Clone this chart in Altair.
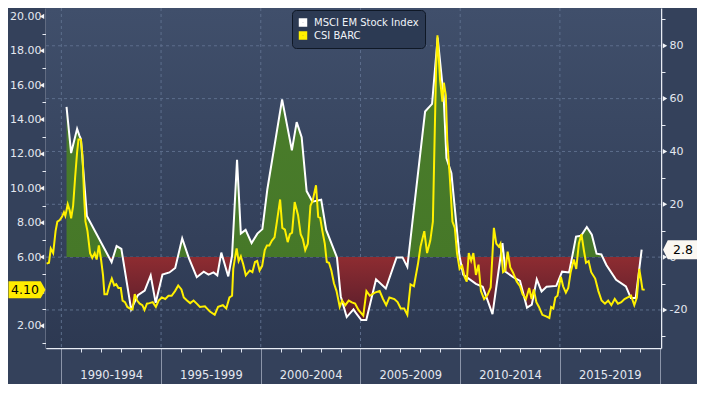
import altair as alt
import pandas as pd

# ---------------- data ----------------
msci_t = [1990.26, 1990.49, 1990.79, 1990.90, 1990.98, 1991.28, 1992.52, 1992.77, 1993.01, 1993.50,
          1993.84, 1994.18, 1994.48, 1994.73, 1995.07, 1995.42, 1995.71, 1996.06, 1996.40, 1996.79,
          1997.14, 1997.38, 1997.63, 1997.82, 1998.02, 1998.37, 1998.56, 1998.81, 1999.00, 1999.24,
          1999.54, 1999.83, 2000.08, 2000.33, 2001.07, 2001.56, 2001.80, 2002.05, 2002.30, 2002.59,
          2003.03, 2003.28, 2003.82, 2004.01, 2004.31, 2004.65, 2004.75, 2005.04, 2005.29, 2005.78,
          2006.27, 2006.81, 2007.11, 2007.35, 2007.70, 2008.24, 2008.59, 2008.87, 2009.17, 2009.31,
          2009.56, 2009.96, 2010.15, 2010.79, 2011.13, 2011.62, 2012.12, 2012.27, 2012.66, 2013.00,
          2013.35, 2013.59, 2013.84, 2014.08, 2014.33, 2014.82, 2015.11, 2015.46, 2015.61, 2015.81,
          2016.06, 2016.35, 2016.60, 2016.84, 2017.08, 2017.33, 2017.82, 2018.31, 2018.56, 2018.80,
          2019.10]
msci_v = [56.9, 39.4, 48.6, 46.1, 44.7, 15.6, -1.9, 4.2, 3.1, -19.8,
          -14.4, -12.7, -6.9, -17.3, -6.6, -5.8, -4.1, 7.1, -0.5, -7.6,
          -5.5, -6.6, -5.8, -6.9, 1.7, -7.3, 0.6, 36.8, 8.9, 10.3,
          5.3, 8.9, 10.6, 25.7, 59.7, 40.4, 51.1, 45.4, 25.0, 21.0,
          21.7, 10.3, -0.1, -14.8, -22.7, -19.8, -20.9, -23.8, -23.8, -8.4,
          -11.9, -0.1, -0.1, -3.7, 19.6, 55.1, 58.0, 83.1, 60.8, 37.5,
          31.8, 0.6, -6.6, -10.1, -11.2, -21.6, 5.3, -5.5, -7.6, -9.0,
          -19.1, -18.0, -8.4, -13.0, -11.2, -10.9, -5.5, -5.8, -0.1, 7.8,
          8.1, 11.4, 8.5, 1.3, 1.0, -3.0, -8.6, -11.1, -15.5, -15.5,
          2.8]

csi_t = [1989.26, 1989.38, 1989.47, 1989.59, 1989.71, 1989.80, 1989.92, 1990.03, 1990.13, 1990.20,
         1990.32, 1990.42, 1990.49, 1990.59, 1990.69, 1990.79, 1990.86, 1990.98, 1991.06, 1991.14,
         1991.21, 1991.31, 1991.44, 1991.55, 1991.67, 1991.77, 1991.88, 1991.99, 1992.09, 1992.16,
         1992.29, 1992.42, 1992.53, 1992.65, 1992.75, 1992.86, 1992.98, 1993.07, 1993.19, 1993.31,
         1993.44, 1993.57, 1993.68, 1993.80, 1993.93, 1994.06, 1994.17, 1994.29, 1994.42, 1994.58,
         1994.74, 1994.88, 1995.04, 1995.21, 1995.37, 1995.53, 1995.70, 1995.86, 1996.02, 1996.14,
         1996.30, 1996.46, 1996.63, 1996.79, 1996.95, 1997.20, 1997.45, 1997.69, 1997.86, 1998.10,
         1998.27, 1998.43, 1998.56, 1998.62, 1998.72, 1998.79, 1998.89, 1999.00, 1999.12, 1999.25,
         1999.45, 1999.58, 1999.71, 1999.82, 1999.94, 2000.07, 2000.20, 2000.31, 2000.43, 2000.56,
         2000.69, 2000.81, 2000.97, 2001.08, 2001.21, 2001.35, 2001.46, 2001.57, 2001.70, 2001.87,
         2002.00, 2002.11, 2002.23, 2002.36, 2002.49, 2002.60, 2002.77, 2002.88, 2002.98, 2003.09,
         2003.21, 2003.31, 2003.42, 2003.54, 2003.67, 2003.80, 2003.96, 2004.08, 2004.24, 2004.41,
         2004.57, 2004.73, 2004.90, 2005.14, 2005.30, 2005.47, 2005.72, 2005.96, 2006.13, 2006.29,
         2006.45, 2006.70, 2006.86, 2007.02, 2007.19, 2007.35, 2007.51, 2007.68, 2007.88, 2008.01,
         2008.20, 2008.34, 2008.50, 2008.63, 2008.69, 2008.79, 2008.86, 2008.99, 2009.11, 2009.18,
         2009.28, 2009.35, 2009.48, 2009.61, 2009.73, 2009.84, 2009.97, 2010.10, 2010.22, 2010.33,
         2010.43, 2010.55, 2010.66, 2010.79, 2010.92, 2011.04, 2011.20, 2011.37, 2011.53, 2011.69,
         2011.81, 2011.94, 2012.02, 2012.15, 2012.26, 2012.38, 2012.51, 2012.64, 2012.84, 2013.00,
         2013.13, 2013.30, 2013.46, 2013.58, 2013.69, 2013.82, 2013.95, 2014.12, 2014.31, 2014.47,
         2014.56, 2014.67, 2014.77, 2014.88, 2014.97, 2015.05, 2015.16, 2015.30, 2015.42, 2015.54,
         2015.70, 2015.82, 2015.95, 2016.08, 2016.20, 2016.31, 2016.44, 2016.57, 2016.77, 2016.93,
         2017.09, 2017.26, 2017.42, 2017.58, 2017.75, 2017.91, 2018.08, 2018.24, 2018.40, 2018.57,
         2018.73, 2018.86, 2018.98, 2019.06, 2019.14, 2019.25]
csi_v = [5.62, 5.67, 6.50, 6.23, 7.51, 8.06, 8.15, 8.34, 8.61, 8.39,
         9.07, 8.71, 8.25, 8.98, 10.63, 12.10, 12.84, 12.84, 11.92, 9.53,
         8.06, 7.51, 6.23, 5.95, 6.23, 5.86, 6.68, 5.86, 4.94, 3.84,
         3.84, 4.39, 4.75, 4.35, 4.42, 4.20, 4.20, 3.47, 3.38, 3.10,
         3.01, 2.96, 3.84, 3.47, 3.29, 3.20, 2.92, 3.29, 3.32, 3.38,
         3.10, 3.47, 3.65, 3.56, 3.75, 3.75, 4.02, 4.35, 4.12, 3.65,
         3.47, 3.32, 3.47, 3.29, 3.10, 3.14, 2.83, 2.64, 3.10, 3.20,
         3.01, 3.65, 3.75, 5.31, 6.04, 6.50, 5.77, 6.04, 5.58, 4.94,
         5.22, 5.12, 5.71, 5.77, 5.22, 5.49, 6.41, 6.68, 6.68, 6.96,
         7.15, 8.06, 9.35, 7.70, 7.60, 6.87, 7.33, 7.42, 9.20, 8.43,
         7.33, 7.05, 6.41, 6.78, 8.98, 9.26, 10.18, 8.34, 8.28, 7.51,
         6.78, 5.71, 5.67, 5.22, 4.48, 4.02, 3.10, 3.47, 3.20, 3.47,
         3.36, 3.29, 2.92, 2.59, 4.02, 3.75, 3.93, 4.02, 3.56, 3.20,
         3.65, 3.56, 3.38, 3.01, 3.01, 2.64, 4.41, 4.30, 5.58, 6.60,
         7.51, 6.23, 6.96, 8.06, 11.37, 16.88, 18.90, 16.33, 15.04, 16.14,
         15.41, 12.84, 10.63, 8.06, 7.70, 6.23, 5.31, 5.49, 4.85, 4.57,
         6.23, 5.79, 6.23, 4.96, 5.56, 4.02, 3.56, 3.80, 4.24, 7.70,
         6.78, 6.60, 6.78, 5.12, 5.22, 6.32, 5.40, 5.12, 4.57, 4.30,
         3.84, 3.56, 4.20, 3.56, 4.12, 3.38, 3.10, 2.64, 2.55, 2.46,
         3.10, 3.01, 3.65, 3.75, 4.39, 4.85, 4.30, 3.93, 4.20, 5.12,
         5.86, 5.31, 6.78, 7.33, 6.41, 5.67, 5.77, 5.12, 4.75, 4.02,
         3.47, 3.29, 3.47, 3.20, 3.56, 3.29, 3.38, 3.56, 3.65, 3.75,
         3.20, 3.65, 5.31, 4.75, 4.12, 4.10]

series_names = ["MSCI EM Stock Index", "CSI BARC"]
series_colors = ["#ffffff", "#fff000"]
left_major = [2, 4, 6, 8, 10, 12, 14, 16, 18, 20]
right_major = [-20, 0, 20, 40, 60, 80]
band_starts = [1990, 1995, 2000, 2005, 2010, 2015]

# ---------------- layout / style ----------------
PL, PR, PB = 38, 36, 36
W, H = 689 - PL - PR, 340
FONT = "DejaVu Sans"
LBL = "#e4e8f0"
GRID = "#5d6e8c"

df_m = pd.DataFrame({"t": msci_t, "v": msci_v, "s": series_names[0]})
df_c = pd.DataFrame({"t": csi_t, "v": csi_v, "s": series_names[1]})

xscale = alt.Scale(domain=[1989.23, 2020.07], nice=False, zero=False)
yl_scale = alt.Scale(domain=[0.71, 20.49], nice=False, zero=False)
yr_scale = alt.Scale(domain=[-34.4, 94.3], nice=False, zero=False)
color_scale = alt.Scale(domain=series_names, range=series_colors)

px_per_year = W / (2020.07 - 1989.23)

xaxis = alt.Axis(
    title=None,
    values=list(range(1990, 2021)),
    labelExpr="datum.value % 5 == 0 && datum.value < 2020 ? datum.value + '-' + (datum.value + 4) : ''",
    labelOffset=2.5 * px_per_year,
    labelPadding=-15,
    labelFlush=False,
    labelOverlap=False,
    labelFont=FONT, labelFontSize=11.5, labelColor=LBL,
    tickSize={"condition": {"test": "datum.value % 5 == 0", "value": 36}, "value": 4},
    tickColor={"condition": {"test": "datum.value % 5 == 0", "value": "#8c95a9"}, "value": "#dfe4ee"},
    domainColor="#e8ecf4", domainWidth=1.5,
    grid=False,
)

last_csi = csi_v[-1]
laxis = alt.Axis(
    title=None, orient="left",
    values=list(range(1, 21)),
    labelExpr=f"datum.value % 2 == 0 && abs(datum.value - {last_csi}) > 0.6 ? format(datum.value, '.2f') : ''",
    labelOverlap=False, labelFlush=False,
    labelFont=FONT, labelFontSize=11, labelColor=LBL, labelPadding=5,
    tickSize={"condition": {"test": "datum.value % 2 == 0", "value": 0}, "value": 4},
    tickColor="#e8ecf4",
    domainColor="#e8ecf4", domainWidth=1.5,
    grid=False,
)

raxis = alt.Axis(
    title=None, orient="right",
    values=list(range(-30, 100, 10)),
    labelExpr="datum.value % 20 == 0 ? datum.value : ''",
    labelOverlap=False, labelFlush=False,
    labelFont=FONT, labelFontSize=11, labelColor=LBL, labelPadding=8,
    tickSize={"condition": {"test": "datum.value % 20 == 0", "value": 0}, "value": 4},
    tickColor="#e8ecf4",
    domainColor="#e8ecf4", domainWidth=1.5,
    grid=False,
)

legend = alt.Legend(
    title=None, orient="none", legendX=246, legendY=2,
    fillColor="#2c3a53", strokeColor="#0f1826", cornerRadius=4, padding=6,
    symbolType="square", symbolSize=20, symbolStrokeWidth=4,
    labelColor="#f0f3f8", labelFont=FONT, labelFontSize=10, labelOffset=6,
    rowPadding=0, clipHeight=13,
)

# ---------------- background + grid ----------------
bg_grad = alt.Gradient(
    gradient="linear", x1=0, x2=0, y1=0, y2=1,
    stops=[alt.GradientStop(offset=0, color="#404f6b"),
           alt.GradientStop(offset=1, color="#2d3952")],
)
bg = alt.Chart(pd.DataFrame({"k": [0]})).mark_rect(color=bg_grad).encode(
    x=alt.value(0), x2=alt.value(W), y=alt.value(0), y2=alt.value(H)
)
vgrid = alt.Chart(pd.DataFrame({"t": band_starts})).mark_rule(
    color=GRID, strokeDash=[3, 3], strokeWidth=1
).encode(x=alt.X("t:Q", scale=xscale, axis=xaxis))
hgrid = alt.Chart(pd.DataFrame({"v": right_major})).mark_rule(
    color=GRID, strokeDash=[3, 3], strokeWidth=1
).encode(y=alt.Y("v:Q", scale=yr_scale, axis=raxis))

# ---------------- right-axis layer (MSCI EM) ----------------
vmax, vmin = max(msci_v), min(msci_v)
p = vmax / (vmax - vmin)
fill_grad = alt.Gradient(
    gradient="linear", x1=0, x2=0, y1=0, y2=1,
    stops=[
        alt.GradientStop(offset=0, color="#4b7e2c"),
        alt.GradientStop(offset=p, color="#467828"),
        alt.GradientStop(offset=p, color="#8e2c31"),
        alt.GradientStop(offset=1, color="#561d2b"),
    ],
)

area = alt.Chart(df_m).mark_area(color=fill_grad, interpolate="linear").encode(
    x=alt.X("t:Q", scale=xscale, axis=xaxis),
    y=alt.Y("v:Q", scale=yr_scale, axis=raxis),
    y2=alt.datum(0),
)
white_line = alt.Chart(df_m).mark_line(strokeWidth=2).encode(
    x=alt.X("t:Q", scale=xscale, axis=xaxis),
    y=alt.Y("v:Q", scale=yr_scale, axis=raxis),
    color=alt.Color("s:N", scale=color_scale, legend=legend),
)
rtri = alt.Chart(pd.DataFrame({"v": right_major})).mark_point(
    shape="triangle-right", filled=True, size=26, color="#f2f4f8", opacity=1
).encode(x=alt.value(W + 4), y=alt.Y("v:Q", scale=yr_scale, axis=raxis))

r_last = pd.DataFrame({"v": [msci_v[-1]], "txt": [f"{msci_v[-1]:.1f}"]})
rbox = alt.Chart(r_last).mark_point(
    shape="M-1,0L-0.72,-0.56L1,-0.56L1,0.56L-0.72,0.56Z",
    filled=True, size=34 * 34, color="#fbf7f2", opacity=1,
).encode(x=alt.value(W + 19), y=alt.Y("v:Q", scale=yr_scale, axis=raxis))
rtext = alt.Chart(r_last).mark_text(font=FONT, fontSize=12.5, color="#000000").encode(
    x=alt.value(W + 22), y=alt.Y("v:Q", scale=yr_scale, axis=raxis), text="txt:N"
)

right_layer = alt.layer(bg, vgrid, hgrid, area, white_line, rtri, rbox, rtext)

# ---------------- left-axis layer (CSI BARC) ----------------
yellow_line = alt.Chart(df_c).mark_line(strokeWidth=2).encode(
    x=alt.X("t:Q", scale=xscale, axis=xaxis),
    y=alt.Y("v:Q", scale=yl_scale, axis=laxis),
    color=alt.Color("s:N", scale=color_scale, legend=legend),
)
ltri = alt.Chart(pd.DataFrame({"v": left_major})).mark_point(
    shape="triangle-left", filled=True, size=26, color="#f2f4f8", opacity=1
).encode(x=alt.value(-4), y=alt.Y("v:Q", scale=yl_scale, axis=laxis))

l_last = pd.DataFrame({"v": [last_csi], "txt": [f"{last_csi:.2f}"]})
lbox = alt.Chart(l_last).mark_point(
    shape="M-1,-0.46L0.74,-0.46L1,0L0.74,0.46L-1,0.46Z",
    filled=True, size=37 * 37, color="#ffec00", opacity=1,
).encode(x=alt.value(-19), y=alt.Y("v:Q", scale=yl_scale, axis=laxis))
ltext = alt.Chart(l_last).mark_text(font=FONT, fontSize=12.5, color="#000000").encode(
    x=alt.value(-21), y=alt.Y("v:Q", scale=yl_scale, axis=laxis), text="txt:N"
)

left_layer = alt.layer(yellow_line, ltri, lbox, ltext)

chart = (
    alt.layer(right_layer, left_layer)
    .resolve_scale(y="independent")
    .properties(
        width=W, height=H,
        autosize=alt.AutoSizeParams(type="none"),
        padding={"left": PL, "right": PR, "top": 0, "bottom": PB},
        background="#34415b",
    )
    .configure_view(fill="#37455f", stroke=None)
)

chart.save("out.html", embed_options={"renderer": "svg", "actions": False})
